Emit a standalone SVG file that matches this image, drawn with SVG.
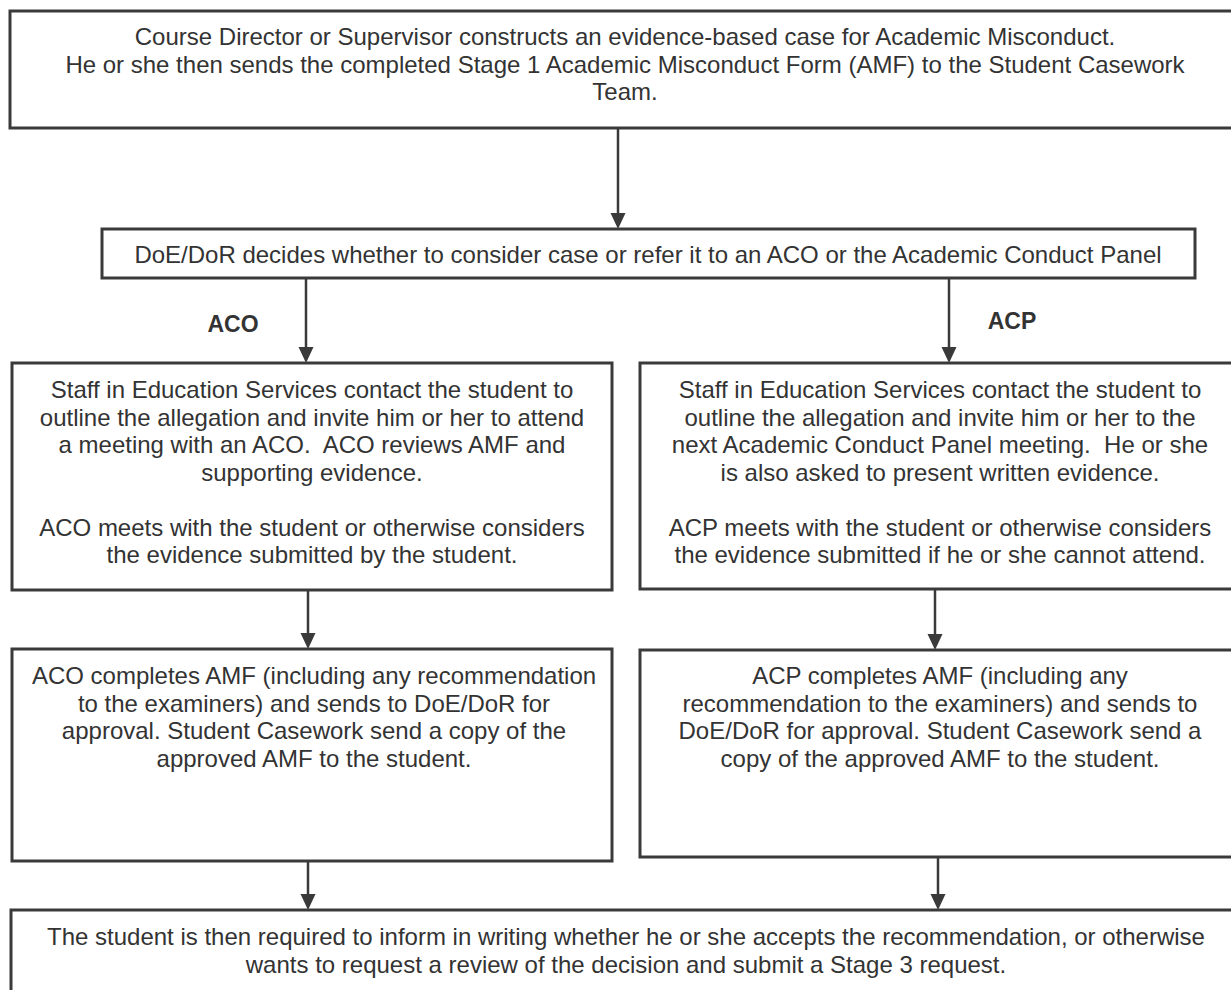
<svg xmlns="http://www.w3.org/2000/svg" width="1231" height="990" viewBox="0 0 1231 990">
<style>
.box{fill:#ffffff;stroke:#3a3a3a;stroke-width:3}
.t{font-family:"Liberation Sans",Arial,sans-serif;font-size:24px;fill:#333333;text-anchor:middle}
.lbl{font-family:"Liberation Sans",Arial,sans-serif;font-size:23px;font-weight:bold;fill:#333333;text-anchor:middle}
.conn{stroke:#3a3a3a;stroke-width:2.5;fill:none;marker-end:url(#arr)}
</style>
<defs>
<marker id="arr" viewBox="0 0 16 16" markerWidth="16" markerHeight="16" refX="8" refY="8" orient="auto" markerUnits="userSpaceOnUse">
<path d="M0,0.5 L16,8 L0,15.5 z" fill="#3a3a3a"/>
</marker>
</defs>
<rect width="1231" height="990" fill="#ffffff"/>
<g id="connectors">
<line class="conn" x1="618" y1="128" x2="618" y2="221"/>
<line class="conn" x1="306" y1="278" x2="306" y2="355"/>
<line class="conn" x1="949" y1="278" x2="949" y2="355"/>
<line class="conn" x1="308" y1="590" x2="308" y2="641"/>
<line class="conn" x1="935" y1="589" x2="935" y2="642"/>
<line class="conn" x1="308" y1="861" x2="308" y2="902"/>
<line class="conn" x1="938" y1="857" x2="938" y2="902"/>
</g>
<g id="n-start">
<rect class="box" x="10" y="11" width="1230" height="117"/>
<text class="t" x="625" y="45">Course Director or Supervisor constructs an evidence-based case for Academic Misconduct.</text>
<text class="t" x="625" y="72.5">He or she then sends the completed Stage 1 Academic Misconduct Form (AMF) to the Student Casework</text>
<text class="t" x="625" y="100">Team.</text>
</g>
<g id="n-decide">
<rect class="box" x="102" y="229" width="1093" height="49"/>
<text class="t" x="648" y="263">DoE/DoR decides whether to consider case or refer it to an ACO or the Academic Conduct Panel</text>
</g>
<g id="lbl-aco"><text class="lbl" x="233" y="332">ACO</text></g>
<g id="lbl-acp"><text class="lbl" x="1012" y="329">ACP</text></g>
<g id="n-aco-meet">
<rect class="box" x="12" y="363" width="600" height="227"/>
<text class="t" x="312" y="398">Staff in Education Services contact the student to</text>
<text class="t" x="312" y="425.5">outline the allegation and invite him or her to attend</text>
<text class="t" x="312" y="453" xml:space="preserve">a meeting with an ACO.  ACO reviews AMF and</text>
<text class="t" x="312" y="480.5">supporting evidence.</text>
<text class="t" x="312" y="535.5">ACO meets with the student or otherwise considers</text>
<text class="t" x="312" y="563">the evidence submitted by the student.</text>
</g>
<g id="n-acp-meet">
<rect class="box" x="640" y="363" width="600" height="226"/>
<text class="t" x="940" y="398">Staff in Education Services contact the student to</text>
<text class="t" x="940" y="425.5">outline the allegation and invite him or her to the</text>
<text class="t" x="940" y="453" xml:space="preserve">next Academic Conduct Panel meeting.  He or she</text>
<text class="t" x="940" y="480.5">is also asked to present written evidence.</text>
<text class="t" x="940" y="535.5">ACP meets with the student or otherwise considers</text>
<text class="t" x="940" y="563">the evidence submitted if he or she cannot attend.</text>
</g>
<g id="n-aco-amf">
<rect class="box" x="12" y="649" width="600" height="212"/>
<text class="t" x="314" y="684">ACO completes AMF (including any recommendation</text>
<text class="t" x="314" y="711.5">to the examiners) and sends to DoE/DoR for</text>
<text class="t" x="314" y="739">approval. Student Casework send a copy of the</text>
<text class="t" x="314" y="766.5">approved AMF to the student.</text>
</g>
<g id="n-acp-amf">
<rect class="box" x="640" y="650" width="600" height="207"/>
<text class="t" x="940" y="684">ACP completes AMF (including any</text>
<text class="t" x="940" y="711.5">recommendation to the examiners) and sends to</text>
<text class="t" x="940" y="739">DoE/DoR for approval. Student Casework send a</text>
<text class="t" x="940" y="766.5">copy of the approved AMF to the student.</text>
</g>
<g id="n-end">
<rect class="box" x="11" y="910" width="1230" height="100"/>
<text class="t" x="626" y="945">The student is then required to inform in writing whether he or she accepts the recommendation, or otherwise</text>
<text class="t" x="626" y="972.5">wants to request a review of the decision and submit a Stage 3 request.</text>
</g>
</svg>
